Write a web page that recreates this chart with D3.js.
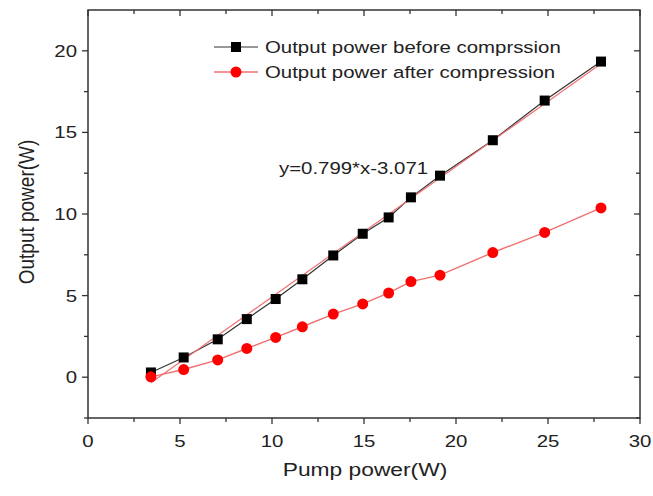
<!DOCTYPE html>
<html>
<head>
<meta charset="utf-8">
<script src="https://cdn.jsdelivr.net/npm/d3@7"></script>
<style>
  body { margin: 0; background: #fff; }
  text { font-family: "Liberation Sans", Arial, sans-serif; fill: #222; }
</style>
</head>
<body>
<svg id="chart" width="653" height="496"></svg>
<script>
// pump power (W)
var pumpBefore = [3.42, 5.2, 7.05, 8.63, 10.2, 11.65, 13.33, 14.93, 16.34, 17.55, 19.13, 22.0, 24.82, 27.88];
var outBefore  = [0.29, 1.21, 2.32, 3.56, 4.79, 6.0, 7.46, 8.79, 9.79, 11.02, 12.35, 14.52, 16.95, 19.34];
var outAfter   = [0.02, 0.47, 1.06, 1.76, 2.44, 3.09, 3.87, 4.49, 5.16, 5.86, 6.25, 7.64, 8.87, 10.37];
var fitSlope = 0.799, fitIntercept = -3.071;
var fitRange = [3.42, 27.88];
var xTicks = [0, 5, 10, 15, 20, 25, 30];
var yTicks = [0, 5, 10, 15, 20];
var legendLabels = ["Output power before comprssion", "Output power after compression"];

var svg = d3.select("#chart");
// plot box edges (window.top is reserved, so use other names)
var pL = 88, pR = 640, pT = 10, pB = 418;
var sx = 1.2; // the source figure is a bit stretched sideways

var x = d3.scaleLinear().domain([0, 30]).range([pL, pR]);
var y = d3.scaleLinear().domain([-2.5, 22.5]).range([pB, pT]);

var minorX = d3.range(2.5, 30, 5);
var minorY = d3.range(-2.5, 22.5, 5);

// text placed at (tx,ty) and widened by sx
function label(tx, ty, str, size, anchor, rot) {
  return svg.append("text")
    .attr("transform", "translate(" + tx + "," + ty + ")" + (rot ? " rotate(-90) scale(1," + sx + ")" : " scale(" + sx + ",1)"))
    .attr("text-anchor", anchor || "start")
    .attr("font-size", size)
    .text(str);
}

// frame
svg.append("rect").attr("x", pL).attr("y", pT)
  .attr("width", pR - pL).attr("height", pB - pT)
  .attr("fill", "none").attr("stroke", "#333").attr("stroke-width", 1.5);

var tg = svg.append("g").attr("stroke", "#333").attr("stroke-width", 1.3);
// bottom ticks outward, top ticks inward
[[xTicks, 6], [minorX, 4]].forEach(function (p) {
  p[0].forEach(function (v) {
    tg.append("line").attr("x1", x(v)).attr("x2", x(v)).attr("y1", pB).attr("y2", pB + p[1]);
    tg.append("line").attr("x1", x(v)).attr("x2", x(v)).attr("y1", pT).attr("y2", pT + p[1]);
  });
});
// left ticks outward, right ticks inward
[[yTicks, 6], [minorY, 4]].forEach(function (p) {
  p[0].forEach(function (v) {
    tg.append("line").attr("y1", y(v)).attr("y2", y(v)).attr("x1", pL).attr("x2", pL - p[1]);
    tg.append("line").attr("y1", y(v)).attr("y2", y(v)).attr("x1", pR).attr("x2", pR - p[1]);
  });
});

// tick labels
xTicks.forEach(function (d) { label(x(d), 447, d, 17, "middle"); });
yTicks.forEach(function (d) { label(77, y(d) + 6, d, 17, "end"); });

// axis titles
label(365, 476, "Pump power(W)", 19, "middle");
label(34, 212, "Output power(W)", 19, "middle", true);

var line = d3.line().x(function (d) { return x(d[0]); }).y(function (d) { return y(d[1]); });
var before = pumpBefore.map(function (p, i) { return [p, outBefore[i]]; });
var after = pumpBefore.map(function (p, i) { return [p, outAfter[i]]; });

svg.append("path").attr("d", line(before)).attr("fill", "none").attr("stroke", "#333").attr("stroke-width", 1.2);
svg.append("path").attr("d", line(fitRange.map(function (v) { return [v, fitSlope * v + fitIntercept]; })))
  .attr("fill", "none").attr("stroke", "#f07070").attr("stroke-width", 1.2);
svg.append("path").attr("d", line(after)).attr("fill", "none").attr("stroke", "#f07070").attr("stroke-width", 1.4);

svg.selectAll(".sq").data(before).enter().append("rect")
  .attr("x", function (d) { return x(d[0]) - 5; }).attr("y", function (d) { return y(d[1]) - 5; })
  .attr("width", 10).attr("height", 10).attr("fill", "#000");
svg.selectAll(".ci").data(after).enter().append("circle")
  .attr("cx", function (d) { return x(d[0]); }).attr("cy", function (d) { return y(d[1]); })
  .attr("r", 5.5).attr("fill", "#ff0000");

// legend
var lg = svg.append("g");
lg.append("line").attr("x1", 214).attr("x2", 258).attr("y1", 47).attr("y2", 47).attr("stroke", "#333").attr("stroke-width", 1.2);
lg.append("rect").attr("x", 231).attr("y", 42).attr("width", 10).attr("height", 10).attr("fill", "#000");
lg.append("line").attr("x1", 214).attr("x2", 258).attr("y1", 72).attr("y2", 72).attr("stroke", "#f07070").attr("stroke-width", 1.4);
lg.append("circle").attr("cx", 236).attr("cy", 72).attr("r", 5.5).attr("fill", "#ff0000");
legendLabels.forEach(function (d, i) { label(265, 53 + i * 25, d, 17); });

label(279, 174, "y=0.799*x-3.071", 17);
</script>
</body>
</html>
